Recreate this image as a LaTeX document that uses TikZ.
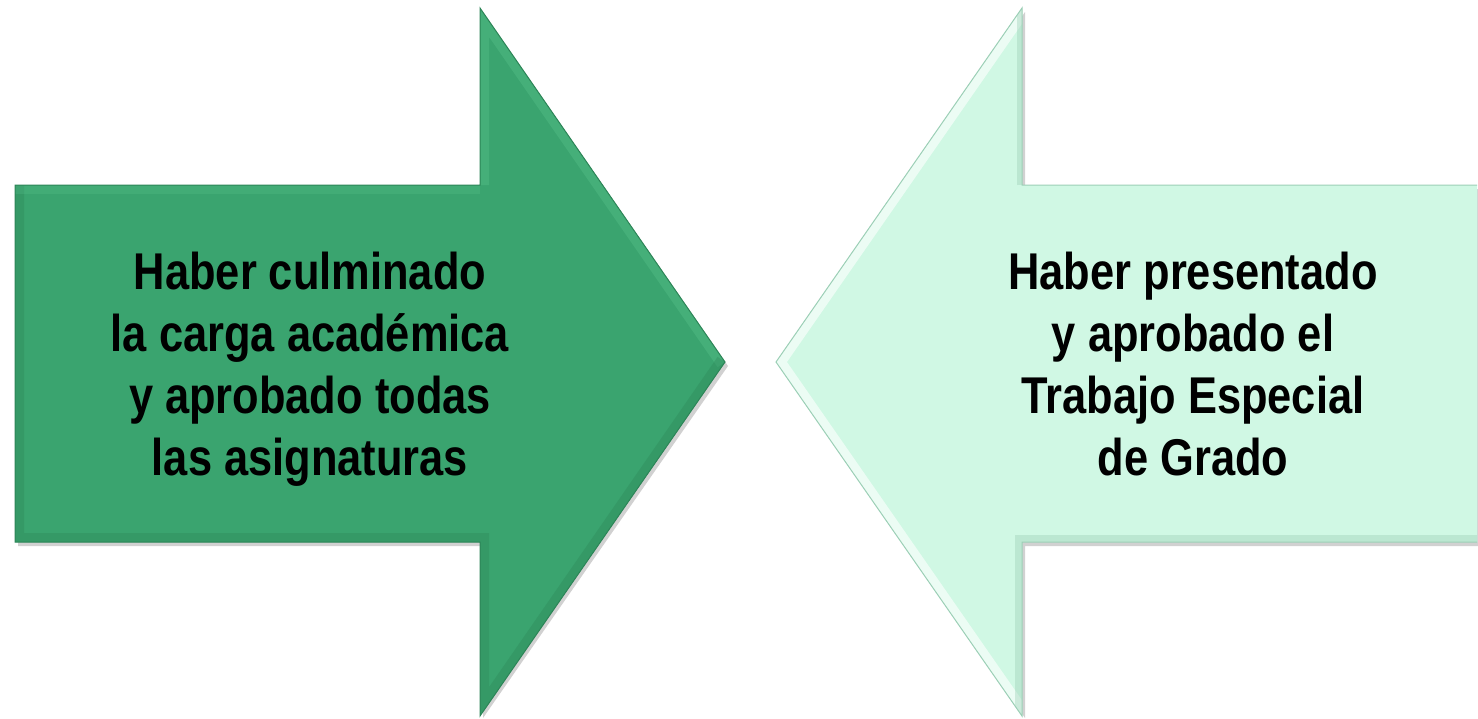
\documentclass[tikz,border=0pt]{standalone}
\usepackage{fontspec}
\newfontfamily\labfont[FakeStretch=0.84]{Liberation Sans}
\definecolor{darkfill}{HTML}{3AA46F}
\definecolor{darkedge}{HTML}{2C8557}
\definecolor{darklight}{HTML}{5CC48E}
\definecolor{lightfill}{HTML}{D0F8E4}
\definecolor{lightedge}{HTML}{9CCFB6}
\definecolor{lightlight}{HTML}{F2FFF8}
\tikzset{
  shadowpath/.style={fill=black, opacity=0.18},
  labeltext/.style={align=center, inner sep=0pt, anchor=base,
    font=\labfont\bfseries\fontsize{51.7}{62}\selectfont, text=black}
}
\begin{document}
\begin{tikzpicture}[x=1pt,y=-1pt]
\useasboundingbox (0,0) rectangle (1478,718);
% shadows
\fill[shadowpath] (18,189) -- (483,189) -- (483,12) -- (728,366) -- (483,718) -- (483,546) -- (18,546) -- cycle;
\fill[shadowpath] (1478,189) -- (1025,189) -- (1025,12) -- (779,366) -- (1025,718) -- (1025,546) -- (1478,546) -- cycle;
% left arrow
\path[fill=darkfill] (15,185) -- (480,185) -- (480,8) -- (725,362) -- (480,716) -- (480,542) -- (15,542) -- cycle;
\begin{scope}
\clip (15,185) -- (480,185) -- (480,8) -- (725,362) -- (480,716) -- (480,542) -- (15,542) -- cycle;
\draw[darklight, line width=18pt, opacity=0.35] (480,185) -- (480,8) -- (725,362);
\draw[darkedge, line width=18pt, opacity=0.35] (725,362) -- (480,716) -- (480,542) -- (15,542) -- (15,185);
\draw[darklight, line width=18pt, opacity=0.25] (15,185) -- (480,185);
\end{scope}
\draw[darkedge, line width=1pt] (15,185) -- (480,185) -- (480,8) -- (725,362) -- (480,716) -- (480,542) -- (15,542) -- cycle;
% right arrow
\path[fill=lightfill] (1477,185) -- (1022,185) -- (1022,8) -- (776,362) -- (1022,716) -- (1022,542) -- (1477,542) -- cycle;
\begin{scope}
\clip (1477,185) -- (1022,185) -- (1022,8) -- (776,362) -- (1022,716) -- (1022,542) -- (1477,542) -- cycle;
\draw[white, line width=18pt, opacity=0.6] (1022,8) -- (776,362) -- (1022,716);
\draw[lightedge, line width=14pt, opacity=0.4] (1022,716) -- (1022,542) -- (1477,542);
\draw[lightedge, line width=10pt, opacity=0.4] (1022,185) -- (1022,8);
\end{scope}
\draw[lightedge, line width=1pt] (1477,185) -- (1022,185) -- (1022,8) -- (776,362) -- (1022,716) -- (1022,542) -- (1477,542);
% texts
\node[labeltext] (lefttext) at (310,475) {Haber culminado\\la carga académica\\y aprobado todas\\las asignaturas};
\node[labeltext] (righttext) at (1193,475) {Haber presentado\\y aprobado el\\Trabajo Especial\\de Grado};
\end{tikzpicture}
\end{document}
